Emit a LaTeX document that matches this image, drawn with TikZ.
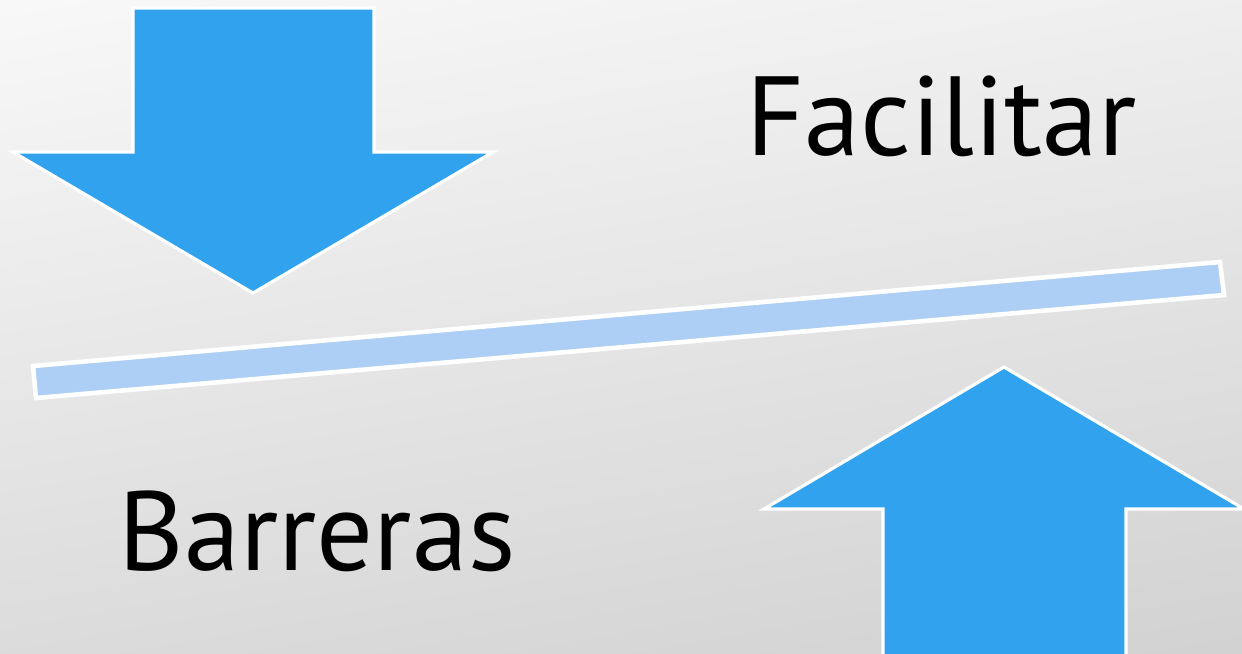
\documentclass[tikz,border=0pt]{standalone}
\usepackage{fontspec}
\setmainfont{PT Sans}
\definecolor{azul}{RGB}{49,163,238}
\definecolor{celeste}{RGB}{173,207,245}
\definecolor{fondoA}{RGB}{250,250,250}
\definecolor{fondoB}{RGB}{208,208,208}
\begin{document}
\begin{tikzpicture}[x=0.01cm,y=-0.01cm,line join=miter,
  flecha/.style={fill=azul,draw=white,line width=0.9pt},
  barra/.style={fill=celeste,draw=white,line width=1.3pt},
  rotulo/.style={font=\fontsize{32}{38}\selectfont,inner sep=0pt,anchor=base west}]
  \useasboundingbox (0,0) rectangle (1242,653);
  \clip (0,0) rectangle (1242,653);
  % fondo
  \shade[top color=fondoA,bottom color=fondoB,shading angle=10] (-100,-100) rectangle (1342,753);
  % balanza
  \draw[barra] (33,366)--(1220,262)--(1224,295)--(36,398)--cycle;
  % flechas
  \draw[flecha] (133,8)--(374,8)--(374,152)--(493,152)--(253,293)--(13,152)--(133,152)--cycle;
  \draw[flecha] (883,680)--(883,509)--(764,509)--(1004,367)--(1244,509)--(1126,509)--(1126,680)--cycle;
  % textos
  \node[rotulo] (facilitar) at (746,155) {Facilitar};
  \node[rotulo] (barreras) at (118,570) {Barreras};
\end{tikzpicture}
\end{document}
